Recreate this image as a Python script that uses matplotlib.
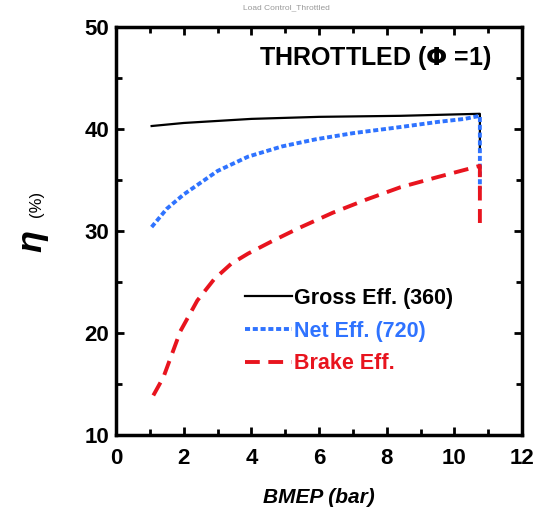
import matplotlib.pyplot as plt
from matplotlib.ticker import MultipleLocator

plt.rcParams['font.family'] = ['Liberation Sans', 'DejaVu Sans']
plt.rcParams['font.weight'] = 'bold'
plt.rcParams['mathtext.fontset'] = 'custom'
plt.rcParams['mathtext.it'] = 'Liberation Sans:italic'

# efficiency curves vs BMEP
gross_bmep = [1.05, 2.0, 4.0, 6.0, 8.4, 10.75, 10.75]
gross_eff = [40.3, 40.6, 41.0, 41.2, 41.3, 41.5, 38.0]

net_bmep = [1.05, 1.5, 2.0, 3.0, 3.9, 4.9, 5.9, 7.0, 8.4, 9.5, 10.3, 10.75, 10.75]
net_eff = [30.4, 32.2, 33.6, 35.9, 37.3, 38.3, 39.0, 39.6, 40.2, 40.7, 41.0, 41.3, 34.1]

brake_bmep = [1.1, 1.4, 1.9, 2.4, 2.9, 3.4, 3.9, 4.6, 5.4, 6.4, 7.4, 8.4, 9.5, 10.75, 10.75]
brake_eff = [13.9, 15.7, 20.2, 23.2, 25.3, 26.8, 27.8, 29.0, 30.3, 31.8, 33.1, 34.3, 35.3, 36.4, 30.8]

fig = plt.figure(figsize=(5.4, 5.2), dpi=100)
ax = fig.add_axes([0.215, 0.163, 0.752, 0.785])

ax.plot(gross_bmep, gross_eff, color='black', lw=1.6, label='Gross Eff. (360)')
ax.plot(net_bmep, net_eff, color='#2f73ff', lw=2.8, linestyle=(0, (1.3, 0.7)),
        label='Net Eff. (720)')
ax.plot(brake_bmep, brake_eff, color='#e8141e', lw=2.8, linestyle=(0, (3.8, 2.2)),
        label='Brake Eff.')

ax.set_xlim(0, 12)
ax.set_ylim(10, 50)
ax.xaxis.set_major_locator(MultipleLocator(2))
ax.xaxis.set_minor_locator(MultipleLocator(1))
ax.yaxis.set_major_locator(MultipleLocator(10))
ax.yaxis.set_minor_locator(MultipleLocator(5))
ax.tick_params(which='both', direction='in', top=True, right=True, width=2)
ax.tick_params(which='major', length=6, labelsize=16)
ax.tick_params(axis='x', which='major', pad=9)
ax.tick_params(axis='y', which='major', pad=5)
ax.tick_params(which='minor', length=4)
for s in ax.spines.values():
    s.set_linewidth(2.5)

ax.set_xlabel('BMEP (bar)', fontsize=15, fontstyle='italic', fontweight='bold', labelpad=14)
fig.text(0.062, 0.535, r'$\eta$', fontsize=26, rotation=90, ha='center', va='center')
fig.text(0.068, 0.608, '(%)', fontsize=12, rotation=90, ha='center', va='center',
         fontweight='normal')

ax.text(0.925, 0.925, r'THROTTLED ($\mathit{\Phi}$ =1)', transform=ax.transAxes,
        fontsize=18, ha='right', va='center')
fig.text(0.53, 0.985, 'Load Control_Throttled', fontsize=6, color='#999999',
         ha='center', va='center', fontweight='normal')

leg = ax.legend(loc='center left', bbox_to_anchor=(0.29, 0.255), frameon=False,
                fontsize=15.5, handlelength=2.2, handletextpad=0.1, labelspacing=0.55,
                borderpad=0, labelcolor='linecolor')

fig.savefig('out.png', dpi=100)
